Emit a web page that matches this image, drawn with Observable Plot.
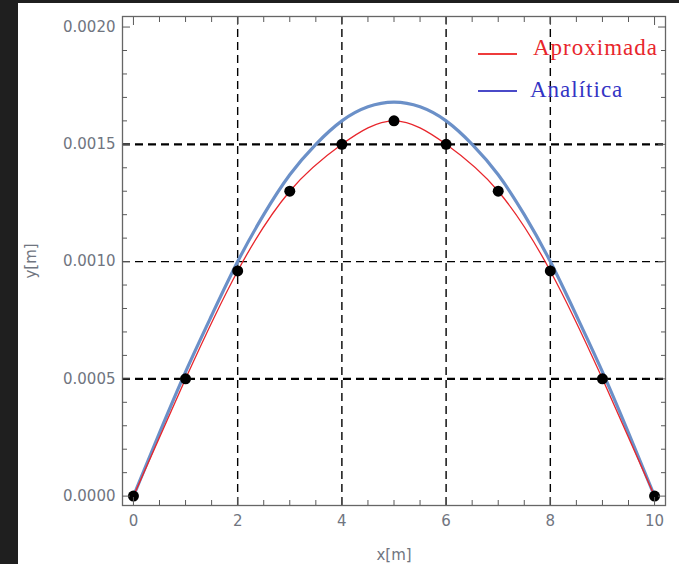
<!DOCTYPE html>
<html><head><meta charset="utf-8">
<script src="https://cdn.jsdelivr.net/npm/d3@7"></script>
<script src="https://cdn.jsdelivr.net/npm/@observablehq/plot@0.6"></script>
<style>
html,body{margin:0;padding:0;background:#1f1f1f;}
#wrap{position:relative;width:679px;height:564px;overflow:hidden;background:#1f1f1f;}
#panel{position:absolute;left:18px;top:3px;width:661px;height:561px;background:#fff;}
#chart{position:absolute;left:0;top:0;}
.item{position:absolute;white-space:nowrap;font-family:"Liberation Serif","DejaVu Serif",serif;font-size:23px;line-height:23px;letter-spacing:1px;}
.swatch{position:absolute;width:39px;height:1.5px;}
</style></head>
<body><div id="wrap"><div id="panel"></div><div id="chart"></div></div>
<script>
// Data
const xPuntos = [0, 1, 2, 3, 4, 5, 6, 7, 8, 9, 10];
const yAproximada = [0, 0.0005, 0.00096, 0.0013, 0.0015, 0.0016, 0.0015, 0.0013, 0.00096, 0.0005, 0];
const xAnalitica = [0, 0.5, 1, 1.5, 2, 2.5, 3, 3.5, 4, 4.5, 5, 5.5, 6, 6.5, 7, 7.5, 8, 8.5, 9, 9.5, 10];
const yAnalitica = [0, 0.00027, 0.00053, 0.00077, 0.00100, 0.00120, 0.00137, 0.00150, 0.00160, 0.00166, 0.00168,
                    0.00166, 0.00160, 0.00150, 0.00137, 0.00120, 0.00100, 0.00077, 0.00053, 0.00027, 0];
const seriesNames = ["Aproximada", "Analítica"];
const legendLineColors = ["#ee3b3b", "#4a4ac8"];
const legendTextColors = ["#e8262c", "#3434c4"];
const xMajor = [0, 2, 4, 6, 8, 10];
const xMinor = [0.5, 1, 1.5, 2.5, 3, 3.5, 4.5, 5, 5.5, 6.5, 7, 7.5, 8.5, 9, 9.5];
const yMajor = [0, 0.0005, 0.0010, 0.0015, 0.0020];
const yMinor = [0.0001, 0.0002, 0.0003, 0.0004, 0.0006, 0.0007, 0.0008, 0.0009,
                0.0011, 0.0012, 0.0013, 0.0014, 0.0016, 0.0017, 0.0018, 0.0019];
const xGrid = [2, 4, 6, 8];
const yGridBold = [0.0005, 0.0015];
const yGridThin = [0.0010];

const puntos = xPuntos.map((x, i) => ({x, y: yAproximada[i]}));
const analitica = xAnalitica.map((x, i) => ({x, y: yAnalitica[i]}));

const labelColor = "#70757f";
const tickColor = "#5a5a5a";
const font = "'DejaVu Sans', Verdana, sans-serif";

const chart = Plot.plot({
  width: 679, height: 564,
  marginLeft: 122, marginRight: 14, marginTop: 16, marginBottom: 59,
  style: {background: "transparent", fontFamily: font, fontSize: "15px", overflow: "visible"},
  x: {domain: [-0.21, 10.21]},
  y: {domain: [-0.00004, 0.002045]},
  marks: [
    Plot.ruleX(xGrid, {x: d => d, stroke: "#000", strokeWidth: 1.4, strokeDasharray: "8,5"}),
    Plot.ruleY(yGridBold, {y: d => d, stroke: "#000", strokeWidth: 2.2, strokeDasharray: "8,5"}),
    Plot.ruleY(yGridThin, {y: d => d, stroke: "#000", strokeWidth: 1.3, strokeDasharray: "8,5"}),
    Plot.line(analitica, {x: "x", y: "y", stroke: "#6b90c8", strokeWidth: 3.2, curve: "natural"}),
    Plot.line(puntos, {x: "x", y: "y", stroke: "#e8262c", strokeWidth: 1.3, curve: "natural"}),
    Plot.dot(puntos, {x: "x", y: "y", r: 5.5, fill: "#000"}),
    Plot.frame({stroke: "#666", strokeWidth: 1.3}),
    // inward frame ticks
    Plot.axisX({anchor: "bottom", ticks: xMajor, tickSize: -8, tickFormat: () => "", label: null, stroke: tickColor}),
    Plot.axisX({anchor: "bottom", ticks: xMinor, tickSize: -5, tickFormat: () => "", label: null, stroke: tickColor}),
    Plot.axisX({anchor: "top", ticks: xMajor, tickSize: -8, tickFormat: () => "", label: null, stroke: tickColor}),
    Plot.axisX({anchor: "top", ticks: xMinor, tickSize: -5, tickFormat: () => "", label: null, stroke: tickColor}),
    Plot.axisY({anchor: "left", ticks: yMajor, tickSize: -8, tickFormat: () => "", label: null, stroke: tickColor}),
    Plot.axisY({anchor: "left", ticks: yMinor, tickSize: -5, tickFormat: () => "", label: null, stroke: tickColor}),
    Plot.axisY({anchor: "right", ticks: yMajor, tickSize: -8, tickFormat: () => "", label: null, stroke: tickColor}),
    Plot.axisY({anchor: "right", ticks: yMinor, tickSize: -5, tickFormat: () => "", label: null, stroke: tickColor}),
    // labels
    Plot.axisX({anchor: "bottom", ticks: xMajor, tickSize: 0, tickPadding: 10, tickFormat: d => String(d),
      fontSize: 15, color: labelColor, label: "x[m]", labelAnchor: "center", labelArrow: "none", labelOffset: 54}),
    Plot.axisY({anchor: "left", ticks: yMajor, tickSize: 0, tickPadding: 7, tickFormat: d3.format(".4f"),
      fontSize: 15, color: labelColor, label: "y[m]", labelAnchor: "center", labelArrow: "none", labelOffset: 97})
  ]
});
document.getElementById("chart").appendChild(chart);

// Legend (inside plot area, upper right)
const wrap = document.getElementById("wrap");
const legendTops = [36, 78];
const swatchTops = [53, 90];
seriesNames.forEach((name, i) => {
  const sw = document.createElement("div");
  sw.className = "swatch";
  sw.style.left = "478px";
  sw.style.top = swatchTops[i] + "px";
  sw.style.background = legendLineColors[i];
  wrap.appendChild(sw);
  const t = document.createElement("div");
  t.className = "item";
  t.style.left = (i === 0 ? 533 : 530) + "px";
  t.style.top = legendTops[i] + "px";
  t.style.color = legendTextColors[i];
  t.textContent = name;
  wrap.appendChild(t);
});
</script></body></html>
